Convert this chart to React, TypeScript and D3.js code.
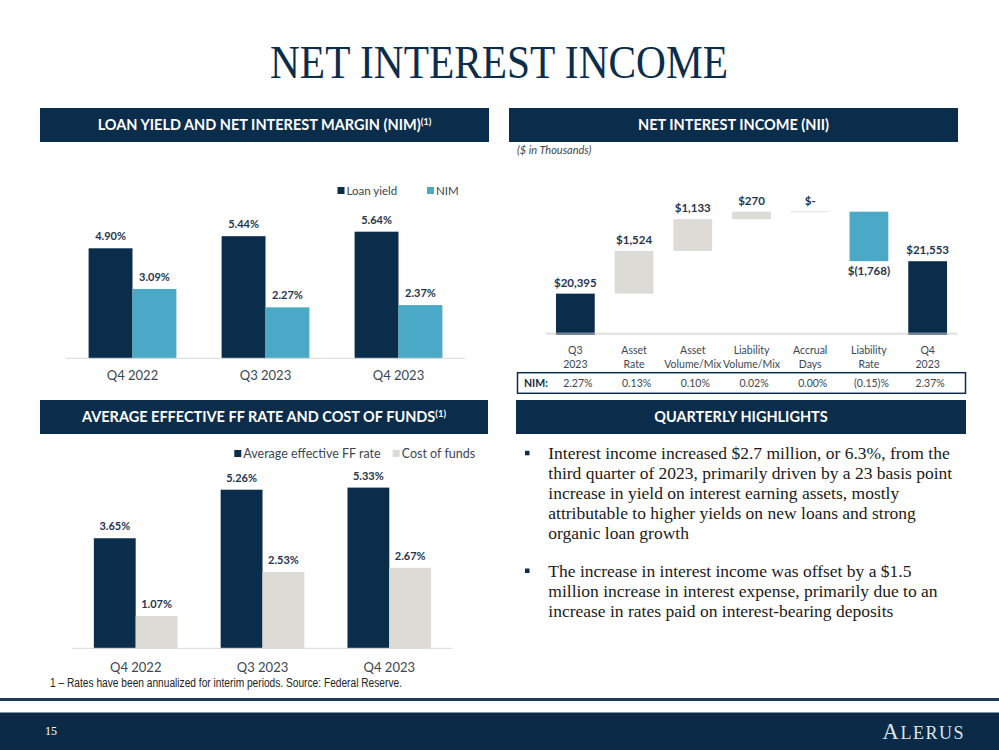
import React from "react";
import * as d3 from "d3";

// ---- data ----
const quarters = ["Q4 2022", "Q3 2023", "Q4 2023"];
const yieldSeries = ["Loan yield", "NIM"];
const loanYield = [4.9, 5.44, 5.64];
const nim = [3.09, 2.27, 2.37];

const fundSeries = ["Average effective FF rate", "Cost of funds"];
const ffRate = [3.65, 5.26, 5.33];
const costOfFunds = [1.07, 2.53, 2.67];

const wfSteps = ["Q3 2023", "Asset Rate", "Asset Volume/Mix", "Liability Volume/Mix", "Accrual Days", "Liability Rate", "Q4 2023"];
const wfLabelLines = [
  ["Q3", "2023"],
  ["Asset", "Rate"],
  ["Asset", "Volume/Mix"],
  ["Liability", "Volume/Mix"],
  ["Accrual", "Days"],
  ["Liability", "Rate"],
  ["Q4", "2023"],
];
const wfValues = [20395, 1524, 1133, 270, 0, -1768, 21553];
const wfIsTotal = [true, false, false, false, false, false, true];
const nimRow = ["2.27%", "0.13%", "0.10%", "0.02%", "0.00%", "(0.15)%", "2.37%"];

const highlights = [
  [
    "Interest income increased $2.7 million, or 6.3%, from the",
    "third quarter of 2023, primarily driven by a 23 basis point",
    "increase in yield on interest earning assets, mostly",
    "attributable to higher yields on new loans and strong",
    "organic loan growth",
  ],
  [
    "The increase in interest income was offset by a $1.5",
    "million increase in interest expense, primarily due to an",
    "increase in rates paid on interest-bearing deposits",
  ],
];

const NAVY = "#0b2d4c";
const TEAL = "#4aa9c6";
const GREY = "#dddbd6";
const LABEL = "#1f3550";
const AXISTXT = "#3b4654";
const SANS = "Lato, 'Open Sans', sans-serif";
const SERIF = "'Liberation Serif', 'DejaVu Serif', serif";

const pct = (v: number) => d3.format(".2f")(v) + "%";

function Header({ x, y, w, h, text, sup }: { x: number; y: number; w: number; h: number; text: string; sup?: string }) {
  return (
    <g>
      <rect x={x} y={y} width={w} height={h} fill={NAVY} />
      <text x={x + w / 2} y={y + h / 2 + 5} textAnchor="middle" fill="#fff" fontFamily={SANS} fontWeight={700} fontSize={14.5}>
        {text}
        {sup && (
          <tspan fontSize={9.5} dy={-5.5}>
            {sup}
          </tspan>
        )}
      </text>
    </g>
  );
}

function GroupedBars(props: {
  x0: number;
  x1: number;
  base: number;
  top: number;
  values: number[][];
  series: string[];
  colors: string[];
  legendX: number[];
  legendY: number;
  legendSize: number;
  catY: number;
}) {
  const { values, series, colors } = props;
  const xg = d3.scaleBand<string>().domain(quarters).range([props.x0, props.x1]).paddingInner(0.34).paddingOuter(0.17);
  const xs = d3.scaleBand<string>().domain(series).range([0, xg.bandwidth()]);
  const y = d3.scaleLinear().domain([0, 6]).range([props.base, props.top]);
  return (
    <g>
      {quarters.map((q, qi) => (
        <g key={q} transform={`translate(${xg(q)},0)`}>
          {series.map((s, si) => {
            const v = values[si][qi];
            return (
              <g key={s}>
                <rect x={xs(s)} y={y(v)} width={xs.bandwidth()} height={y(0) - y(v)} fill={colors[si]} />
                <text x={(xs(s) ?? 0) + xs.bandwidth() / 2} y={y(v) - 8} textAnchor="middle" fontFamily={SANS} fontWeight={700} fontSize={11} fill={LABEL}>
                  {pct(v)}
                </text>
              </g>
            );
          })}
          <text x={xg.bandwidth() / 2} y={props.catY} textAnchor="middle" fontFamily={SANS} fontSize={13} fill={AXISTXT}>
            {q}
          </text>
        </g>
      ))}
      <line x1={props.x0} x2={props.x1} y1={props.base} y2={props.base} stroke="#d9d9d9" strokeWidth={1} />
      {series.map((s, si) => (
        <g key={s}>
          <rect x={props.legendX[si]} y={props.legendY - 4} width={7} height={7} fill={colors[si]} />
          <text x={props.legendX[si] + 9} y={props.legendY + 4} fontFamily={SANS} fontSize={props.legendSize} fill={AXISTXT}>
            {s}
          </text>
        </g>
      ))}
    </g>
  );
}

function Waterfall() {
  const x = d3.scaleBand<string>().domain(wfSteps).range([546, 957]).paddingInner(0.34).paddingOuter(0.17);
  const y = d3.scaleLinear().domain([19000, 24000]).range([332.7, 192.7]);
  const money = (v: number) => (v === 0 ? "$-" : v < 0 ? `$(${d3.format(",")(-v)})` : `$${d3.format(",")(v)}`);
  let running = 0;
  const bars = wfValues.map((v, i) => {
    let lo: number, hi: number;
    if (wfIsTotal[i]) {
      lo = 19000;
      hi = v;
      running = v;
    } else {
      lo = Math.min(running, running + v);
      hi = Math.max(running, running + v);
      running += v;
    }
    return { step: wfSteps[i], v, lo, hi, i };
  });
  return (
    <g>
      <text x={517} y={154} fontFamily={SANS} fontStyle="italic" fontSize={11} fill="#3b4654">
        ($ in Thousands)
      </text>
      {bars.map((b) => {
        const bx = x(b.step) ?? 0;
        const bw = x.bandwidth();
        const fill = wfIsTotal[b.i] ? NAVY : b.v < 0 ? TEAL : GREY;
        const yTop = y(b.hi);
        const yBot = wfIsTotal[b.i] ? y(b.lo) + 2.3 : y(b.lo);
        const ly = b.v < 0 ? y(b.lo) + 14 : yTop - 7;
        return (
          <g key={b.step}>
            {b.v === 0 ? (
              <line x1={bx} x2={bx + bw} y1={yTop} y2={yTop} stroke="#e4e2de" strokeWidth={1} />
            ) : (
              <rect x={bx} y={yTop} width={bw} height={yBot - yTop} fill={fill} />
            )}
            <text x={bx + bw / 2} y={ly} textAnchor="middle" fontFamily={SANS} fontWeight={700} fontSize={11.5} fill={LABEL}>
              {money(b.v)}
            </text>
            {wfLabelLines[b.i].map((t, li) => (
              <text key={li} x={bx + bw / 2} y={354 + li * 13.5} textAnchor="middle" fontFamily={SANS} fontSize={10.5} fill={AXISTXT}>
                {t}
              </text>
            ))}
            <text x={bx + bw / 2 + 2.5} y={387} textAnchor="middle" fontFamily={SANS} fontSize={10.5} fill={AXISTXT}>
              {nimRow[b.i]}
            </text>
          </g>
        );
      })}
      <line x1={546} x2={957} y1={333.8} y2={333.8} stroke="#cfcfcf" strokeOpacity={0.55} strokeWidth={2.4} />
      <rect x={517.5} y={372.7} width={448} height={20.6} fill="none" stroke={NAVY} strokeWidth={1.5} />
      <text x={524} y={387} fontFamily={SANS} fontWeight={700} fontSize={10.5} fill={NAVY}>
        NIM:
      </text>
    </g>
  );
}

export default function App() {
  return (
    <svg width={999} height={750} style={{ position: "absolute", left: 0, top: 0, background: "#fff" }}>
      <text x={499} y={78} textAnchor="middle" fontFamily={SERIF} fontSize={47} fill={NAVY} textLength={458} lengthAdjust="spacingAndGlyphs">
        NET INTEREST INCOME
      </text>

      <Header x={40} y={108} w={449} h={34} text="LOAN YIELD AND NET INTEREST MARGIN (NIM)" sup="(1)" />
      <Header x={509} y={108} w={449} h={34} text="NET INTEREST INCOME (NII)" />
      <Header x={40} y={400} w={448} h={34} text="AVERAGE EFFECTIVE FF RATE AND COST OF FUNDS" sup="(1)" />
      <Header x={516} y={400} w={450} h={34} text="QUARTERLY HIGHLIGHTS" />

      <GroupedBars
        x0={66}
        x1={465}
        base={358.3}
        top={358.3 - 6 * 22.45}
        values={[loanYield, nim]}
        series={yieldSeries}
        colors={[NAVY, TEAL]}
        legendX={[337.5, 427]}
        legendY={191}
        legendSize={11.5}
        catY={380}
      />

      <GroupedBars
        x0={72.3}
        x1={452.7}
        base={648.3}
        top={648.3 - 6 * 30.15}
        values={[ffRate, costOfFunds]}
        series={fundSeries}
        colors={[NAVY, GREY]}
        legendX={[234.3, 392.7]}
        legendY={454}
        legendSize={12.5}
        catY={672}
      />
      <text x={50} y={686.5} fontFamily="'Liberation Sans Narrow', 'Liberation Sans', sans-serif" fontSize={12.5} fill="#222" textLength={352} lengthAdjust="spacingAndGlyphs">
        1 – Rates have been annualized for interim periods. Source: Federal Reserve.
      </text>

      <Waterfall />

      {highlights.map((para, pi) => {
        const y0 = pi === 0 ? 453.3 : 571;
        return (
          <g key={pi}>
            <rect x={525} y={y0 - 2.5} width={4.5} height={4.5} fill={NAVY} />
            {para.map((line, li) => (
              <text key={li} x={548.3} y={y0 + 6 + li * 20} fontFamily={SERIF} fontSize={17.5} fill="#1a1a1a">
                {line}
              </text>
            ))}
          </g>
        );
      })}

      <rect x={0} y={698} width={999} height={3} fill="#1d3a57" />
      <rect x={0} y={712} width={999} height={38} fill="#0a2a47" />
      <line x1={0} x2={999} y1={712.5} y2={712.5} stroke="#7f93a6" strokeWidth={1} />
      <text x={45} y={735} fontFamily={SERIF} fontSize={12} fill="#fff">
        15
      </text>
      <text x={965} y={739} textAnchor="end" fontFamily={SERIF} fill="#dfe4ea" letterSpacing={1.5}>
        <tspan fontSize={23}>A</tspan>
        <tspan fontSize={18}>LERUS</tspan>
      </text>
    </svg>
  );
}
